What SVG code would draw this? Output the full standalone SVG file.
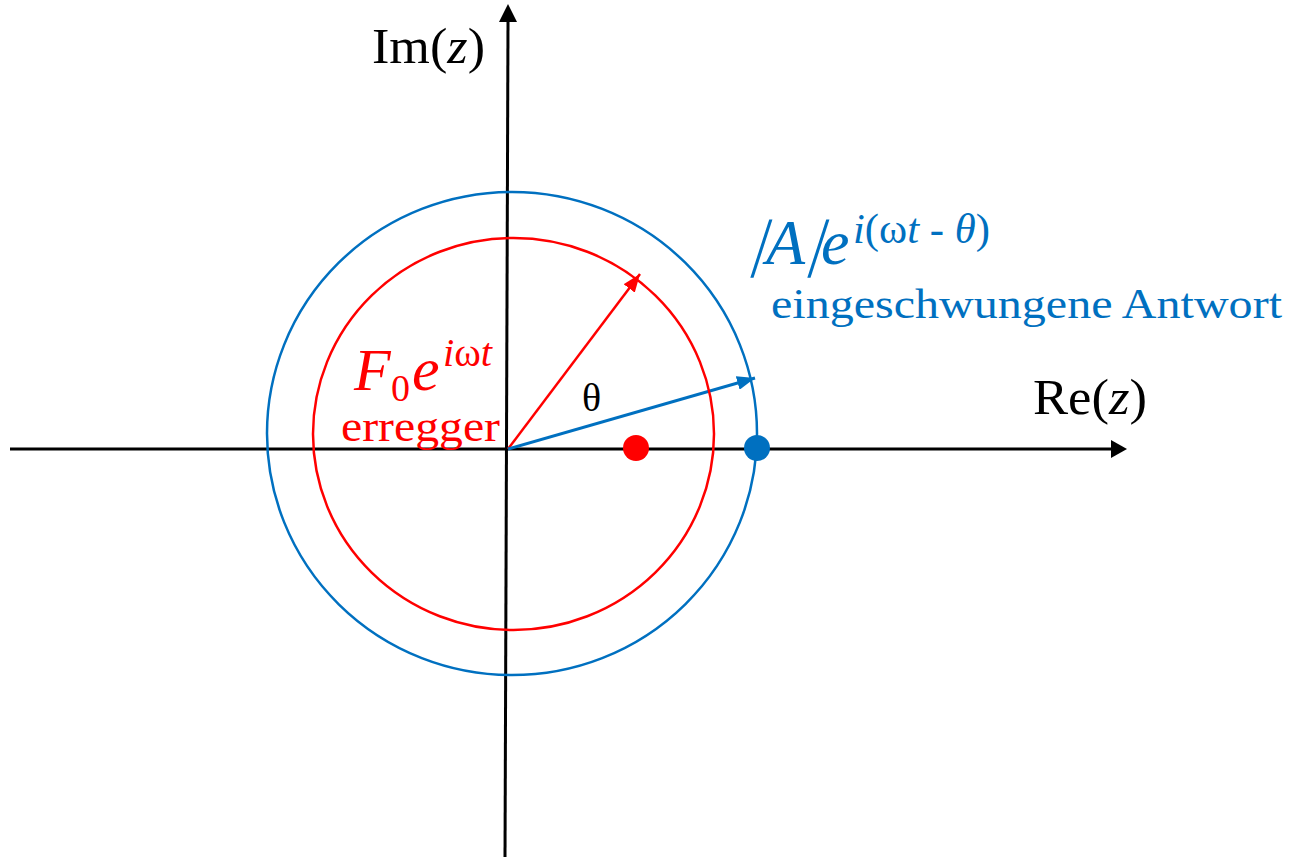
<svg xmlns="http://www.w3.org/2000/svg" width="1292" height="857" viewBox="0 0 1292 857">
<style>
text{font-family:"Liberation Serif","Times New Roman",serif}
.it{font-style:italic}
.up{font-style:normal}
.ax{stroke:#000;stroke-width:3;fill:none}
.r{fill:#ff0000}
.b{fill:#0070c0}
</style>
<defs>
<marker id="ar" markerWidth="18" markerHeight="14" refX="18" refY="7" orient="auto" markerUnits="userSpaceOnUse"><path d="M0,0 L18,7 L0,14 z" fill="#ff0000"/></marker>
<marker id="ab" markerWidth="18" markerHeight="14" refX="18" refY="7" orient="auto" markerUnits="userSpaceOnUse"><path d="M0,0 L18,7 L0,14 z" fill="#0070c0"/></marker>
</defs>
<rect width="1292" height="857" fill="#fff"/>
<g id="connectors">
<line x1="10" y1="449" x2="1111" y2="449" class="ax"/>
<path d="M1111,440 L1127,449 L1111,458 z" fill="#000"/>
<line x1="505" y1="857" x2="508" y2="22" class="ax"/>
<path d="M499,22 L508,4 L517,22 z" fill="#000"/>
<line x1="508" y1="449" x2="640" y2="274" stroke="#ff0000" stroke-width="2.5" marker-end="url(#ar)"/>
<line x1="508" y1="449" x2="755" y2="378" stroke="#0070c0" stroke-width="3" marker-end="url(#ab)"/>
</g>
<g id="circle-red"><ellipse cx="513.5" cy="434" rx="200.5" ry="196" fill="none" stroke="#ff0000" stroke-width="2.5"/></g>
<g id="circle-blue"><ellipse cx="512" cy="433.5" rx="245" ry="241.5" fill="none" stroke="#0070c0" stroke-width="2.5"/></g>
<g id="dot-red"><circle cx="636" cy="448" r="13" fill="#ff0000"/></g>
<g id="dot-blue"><circle cx="757" cy="448" r="13" fill="#0070c0"/></g>
<g id="label-im"><text x="372" y="63" font-size="50" textLength="113" lengthAdjust="spacingAndGlyphs">Im(<tspan class="it">z</tspan>)</text></g>
<g id="label-re"><text x="1033" y="414" font-size="50" textLength="114" lengthAdjust="spacingAndGlyphs">Re(<tspan class="it">z</tspan>)</text></g>
<g id="label-theta"><text x="582" y="411" font-size="40">θ</text></g>
<g id="label-excite">
<text x="354" y="390" font-size="60" class="it r">F</text>
<text x="391" y="401" font-size="38" class="r">0</text>
<text x="412" y="390" font-size="62" class="it r">e</text>
<text x="443" y="366" font-size="40" class="it r" textLength="49" lengthAdjust="spacingAndGlyphs">i<tspan class="up">ω</tspan>t</text>
<text x="341" y="441" font-size="44" class="r" textLength="159" lengthAdjust="spacingAndGlyphs">erregger</text>
</g>
<g id="label-response">
<text x="0" y="0" font-size="64" class="b" transform="translate(750,264) skewX(-18)">|</text>
<text x="766" y="264" font-size="64" class="it b">A</text>
<text x="0" y="0" font-size="64" class="b" transform="translate(807,264) skewX(-18)">|</text>
<text x="821" y="264" font-size="64" class="it b">e</text>
<text x="853" y="243" font-size="42" class="it b" textLength="137" lengthAdjust="spacingAndGlyphs">i<tspan class="up">(ω</tspan>t - θ<tspan class="up">)</tspan></text>
<text x="771" y="318" font-size="42" class="b" textLength="511" lengthAdjust="spacingAndGlyphs">eingeschwungene Antwort</text>
</g>
</svg>
